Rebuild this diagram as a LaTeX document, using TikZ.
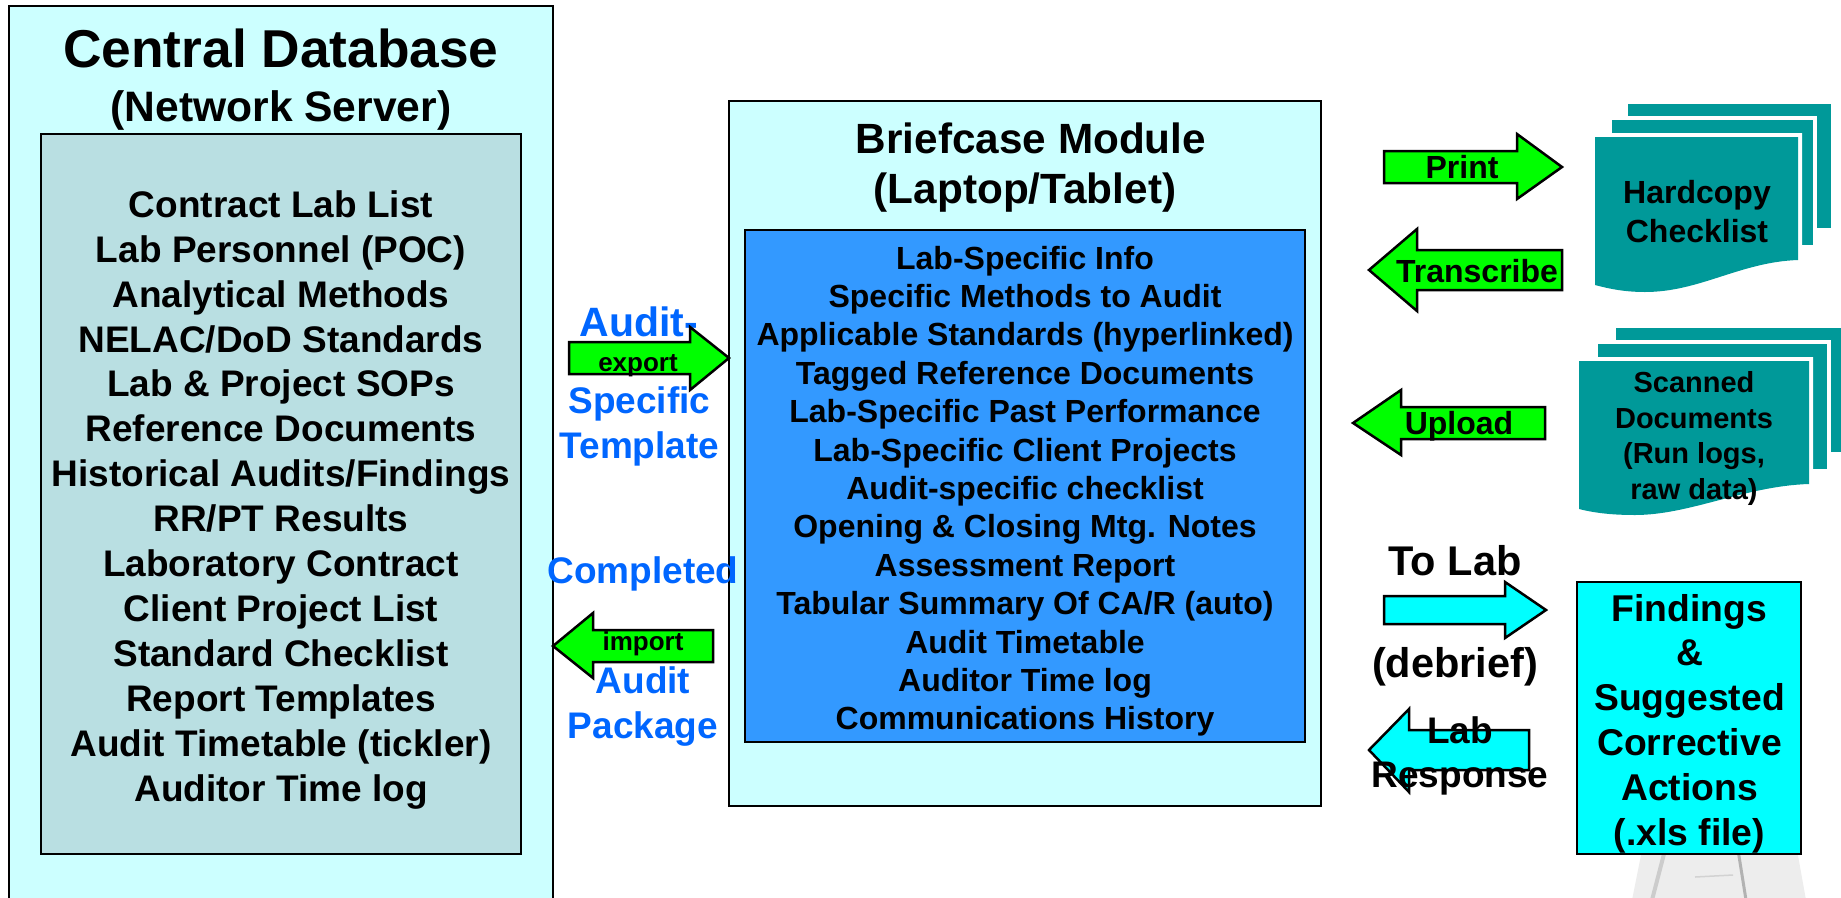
\documentclass[tikz,border=0pt]{standalone}
\usepackage{fontspec}
\setmainfont{Liberation Sans}
\newcommand{\fsz}[2]{\fontsize{#1pt}{#2pt}\selectfont\bfseries}
\definecolor{panelc}{HTML}{CCFFFF}
\definecolor{greyc}{HTML}{B9DFE2}
\definecolor{bluec}{HTML}{3399FF}
\definecolor{tealc}{HTML}{009999}
\definecolor{greenc}{HTML}{00FF00}
\definecolor{cyanc}{HTML}{00FFFF}
\definecolor{linkc}{HTML}{0066FF}
\tikzset{
  x=1pt,y=-1pt,
  box/.style={draw=black,line width=2.5pt,inner sep=0pt,outer sep=0pt},
  txt/.style={inner sep=0pt,outer sep=0pt,anchor=base,align=center,text=black},
  link/.style={txt,text=linkc,font=\fsz{37}{44.5}},
  garrow/.style={draw=black,line width=2.5pt,fill=greenc,miter limit=10},
  carrow/.style={draw=black,line width=2.5pt,fill=cyanc,miter limit=10},
  sheet/.style={fill=tealc,preaction={draw=white,line width=8pt}},
}
\begin{document}
\begin{tikzpicture}
\useasboundingbox (0,0) rectangle (1841,897);
\clip (0,0) rectangle (1841,897);
% faint picture behind the findings box
\fill[gray!14] (1642,850) -- (1797,850) -- (1806,900) -- (1632,900) -- cycle;
\draw[gray!40,line width=4pt] (1665,850) -- (1652,900);
\draw[gray!60,line width=3pt] (1738,850) -- (1746,900);
\draw[gray!35,line width=1.5pt] (1695,877) -- (1733,875);
% main panels
\node[box,fill=panelc,minimum width=544pt,minimum height=924pt] (central) at (281,468) {};
\node[box,fill=greyc,minimum width=480pt,minimum height=720pt] (centralin) at (281,494) {};
\node[box,fill=panelc,minimum width=592pt,minimum height=705pt] (brief) at (1025,453.5) {};
\node[box,fill=bluec,minimum width=560pt,minimum height=512pt] (briefin) at (1025,486) {};
\node[box,fill=cyanc,minimum width=224pt,minimum height=272pt] (findings) at (1689,718) {};
% titles
\node[txt,font=\fsz{53.3}{60}] (t1) at (281,67.5) {Central Database};
\node[txt,font=\fsz{42.6}{50}] (t2) at (281,121) {(Network Server)};
\node[txt,font=\fsz{42.3}{50.5}] (t3) at (1031,153) {Briefcase Module};
\node[txt,font=\fsz{42.3}{50.5}] (t4) at (1025,203.5) {(Laptop/Tablet)};
% list in central database
\node[txt,font=\fsz{37}{44.9}] (list1) at (281,801) {Contract Lab List\\Lab Personnel (POC)\\Analytical Methods\\NELAC/DoD Standards\\Lab \& Project SOPs\\Reference Documents\\Historical Audits/Findings\\RR/PT Results\\Laboratory Contract\\Client Project List\\Standard Checklist\\Report Templates\\Audit Timetable (tickler)\\Auditor Time log};
% list in briefcase
\node[txt,font=\fsz{32}{38.4}] (list2) at (1025,729.8) {Lab-Specific Info\\Specific Methods to Audit\\Applicable Standards (hyperlinked)\\Tagged Reference Documents\\Lab-Specific Past Performance\\Lab-Specific Client Projects\\Audit-specific checklist\\Opening \& Closing Mtg. Notes\\Assessment Report\\Tabular Summary Of CA/R (auto)\\Audit Timetable\\Auditor Time log\\Communications History};
% export / import
\node[txt,text=linkc,font=\fsz{41}{44}] (audit1) at (639,336) {Audit-};
\draw[garrow] (569,342) -- (690,342) -- (690,327) -- (729,358) -- (690,390) -- (690,374) -- (569,374) -- cycle;
\node[txt,font=\fsz{26}{30}] (export) at (638,371.5) {export};
\node[link] (spec) at (639.5,458) {Specific\\Template};
\node[link] (compl) at (643,583) {Completed};
\draw[garrow] (553,646) -- (593,613) -- (593,630) -- (713,630) -- (713,662) -- (593,662) -- (593,678) -- cycle;
\node[txt,font=\fsz{26}{30}] (import) at (643,650) {import};
\node[link] (pack) at (643,738) {Audit\\Package};
% right arrows
\draw[garrow] (1384,151) -- (1517,151) -- (1517,134) -- (1562,167) -- (1517,199) -- (1517,183) -- (1384,183) -- cycle;
\node[txt,font=\fsz{32}{38}] (print) at (1462,178) {Print};
\draw[garrow] (1369,270) -- (1417,229) -- (1417,250) -- (1562,250) -- (1562,290) -- (1417,290) -- (1417,311) -- cycle;
\node[txt,font=\fsz{32}{38}] (trans) at (1477,282) {Transcribe};
\draw[garrow] (1353,423) -- (1401,390) -- (1401,407) -- (1545,407) -- (1545,439) -- (1401,439) -- (1401,455) -- cycle;
\node[txt,font=\fsz{32}{38}] (upload) at (1459,434) {Upload};
% stacked documents
\path[sheet] (1628,104) rectangle (1831,228);
\path[sheet] (1612,120) rectangle (1813,245);
\path[sheet] (1595,137) -- (1798,137) -- (1798,260) .. controls (1740,262) and (1700,292) .. (1645,292) .. controls (1625,292) and (1610,289) .. (1595,285) -- cycle;
\node[txt,font=\fsz{32}{38.4}] (hard) at (1697,242) {Hardcopy\\Checklist};
\path[sheet] (1616,328) rectangle (1850,452);
\path[sheet] (1598,344) rectangle (1827,469);
\path[sheet] (1579,361) -- (1809,361) -- (1809,484) .. controls (1745,486) and (1690,515) .. (1635,515) .. controls (1612,515) and (1595,513) .. (1579,509) -- cycle;
\node[txt,font=\fsz{29}{35.6}] (scan) at (1694,499.5) {Scanned\\Documents\\(Run logs,\\raw data)};
% to lab
\node[txt,font=\fsz{41.5}{48}] (tolab) at (1455,575) {To Lab};
\draw[carrow] (1384,596) -- (1505,596) -- (1505,582) -- (1546,610) -- (1505,638) -- (1505,624) -- (1384,624) -- cycle;
\node[txt,font=\fsz{41.5}{48}] (debrief) at (1455,677) {(debrief)};
\draw[carrow] (1369,750) -- (1409,709) -- (1409,730) -- (1529,730) -- (1529,770) -- (1409,770) -- (1409,792) -- cycle;
\node[txt,font=\fsz{37}{44}] (resp) at (1460,787) {Lab\\Response};
\node[txt,font=\fsz{37.3}{44.8}] (findtxt) at (1689.5,845) {Findings\\\&\\Suggested\\Corrective\\Actions\\(.xls file)};
\end{tikzpicture}
\end{document}
